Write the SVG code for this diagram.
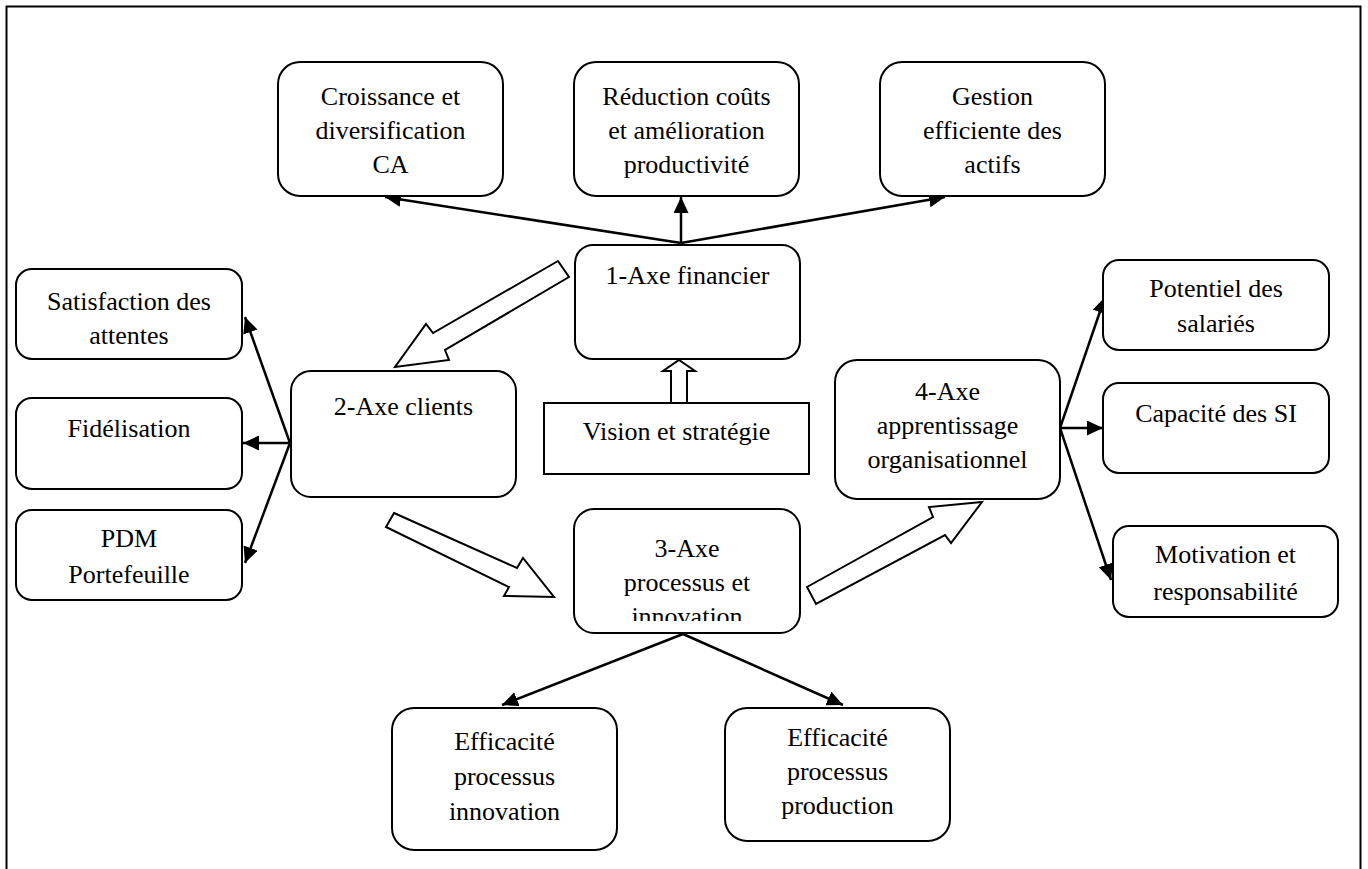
<svg xmlns="http://www.w3.org/2000/svg" width="1368" height="869" viewBox="0 0 1368 869">
  <defs>
    <style>
      .box { fill: #fff; stroke: #000; stroke-width: 2; }
      .lbl { font-family: "Liberation Serif", "Times New Roman", serif; font-size: 26px; fill: #000; text-anchor: middle; }
      .link { stroke: #000; stroke-width: 2.5; fill: none; marker-end: url(#head); }
      .block { fill: #fff; stroke: #000; stroke-width: 2; stroke-linejoin: miter; }
      .frame { stroke: #000; stroke-width: 2; fill: none; }
    </style>
    <marker id="head" markerUnits="userSpaceOnUse" markerWidth="18" markerHeight="16" refX="16" refY="7.5" orient="auto">
      <path d="M0,0 L16,7.5 L0,15 z" fill="#000"/>
    </marker>
    <clipPath id="clip-axe3">
      <rect x="574" y="509" width="226" height="112"/>
    </clipPath>
  </defs>

  <rect width="1368" height="869" fill="#fff"/>

  <!-- outer frame (open at the bottom) -->
  <path class="frame" d="M6.5,869 V6.5 H1360.5 V869"/>

  <!-- connectors -->
  <g id="connectors">
    <line class="link" x1="681" y1="243" x2="385" y2="197"/>
    <line class="link" x1="681" y1="243" x2="681" y2="197"/>
    <line class="link" x1="681" y1="243" x2="945" y2="197"/>

    <line class="link" x1="290" y1="443" x2="245" y2="317"/>
    <line class="link" x1="290" y1="443" x2="243" y2="443"/>
    <line class="link" x1="290" y1="443" x2="245" y2="563"/>

    <line class="link" x1="1060" y1="428" x2="1105" y2="297"/>
    <line class="link" x1="1060" y1="428" x2="1103" y2="428"/>
    <line class="link" x1="1060" y1="428" x2="1111" y2="580"/>

    <line class="link" x1="683" y1="634" x2="502" y2="705"/>
    <line class="link" x1="683" y1="634" x2="843" y2="705"/>

    <!-- hollow block arrows -->
    <polygon class="block" points="558,261 433,333 426,324 395,367 449,360 445,350 569,277"/>
    <polygon class="block" points="394,513 517,568 523,558 554,597 504,596 509,587 386,527"/>
    <polygon class="block" points="807,587 933,517 929,507 982,502 951,543 945,535 816,604"/>
    <polygon class="block" points="671,403 671,371 663,371 679,360 695,371 687,371 687,403"/>
  </g>

  <!-- financial axis objectives -->
  <g id="croissance">
    <rect class="box" x="278" y="62" width="225" height="134" rx="22"/>
    <text class="lbl" x="390.5" y="105">Croissance et</text>
    <text class="lbl" x="390.5" y="139">diversification</text>
    <text class="lbl" x="390.5" y="173">CA</text>
  </g>
  <g id="reduction">
    <rect class="box" x="574" y="62" width="225" height="134" rx="22"/>
    <text class="lbl" x="686.5" y="105">Réduction coûts</text>
    <text class="lbl" x="686.5" y="139">et amélioration</text>
    <text class="lbl" x="686.5" y="173">productivité</text>
  </g>
  <g id="gestion">
    <rect class="box" x="880" y="62" width="225" height="134" rx="22"/>
    <text class="lbl" x="992.5" y="105">Gestion</text>
    <text class="lbl" x="992.5" y="139">efficiente des</text>
    <text class="lbl" x="992.5" y="173">actifs</text>
  </g>

  <!-- central axes -->
  <g id="axe-financier">
    <rect class="box" x="575" y="245" width="225" height="114" rx="18"/>
    <text class="lbl" x="687.5" y="284">1-Axe financier</text>
  </g>
  <g id="vision">
    <rect class="box" x="544" y="403" width="265" height="71"/>
    <text class="lbl" x="676.5" y="440">Vision et stratégie</text>
  </g>
  <g id="axe-clients">
    <rect class="box" x="291" y="371" width="225" height="126" rx="20"/>
    <text class="lbl" x="403.5" y="415">2-Axe clients</text>
  </g>
  <g id="axe-processus">
    <rect class="box" x="574" y="509" width="226" height="124" rx="20"/>
    <g clip-path="url(#clip-axe3)">
      <text class="lbl" x="687" y="557">3-Axe</text>
      <text class="lbl" x="687" y="591">processus et</text>
      <text class="lbl" x="687" y="625">innovation</text>
    </g>
  </g>
  <g id="axe-apprentissage">
    <rect class="box" x="835" y="360" width="225" height="139" rx="22"/>
    <text class="lbl" x="947.5" y="400">4-Axe</text>
    <text class="lbl" x="947.5" y="434">apprentissage</text>
    <text class="lbl" x="947.5" y="468">organisationnel</text>
  </g>

  <!-- customer axis objectives -->
  <g id="satisfaction">
    <rect class="box" x="16" y="269" width="226" height="90" rx="16"/>
    <text class="lbl" x="129" y="310">Satisfaction des</text>
    <text class="lbl" x="129" y="344">attentes</text>
  </g>
  <g id="fidelisation">
    <rect class="box" x="16" y="398" width="226" height="91" rx="16"/>
    <text class="lbl" x="129" y="437">Fidélisation</text>
  </g>
  <g id="pdm">
    <rect class="box" x="16" y="510" width="226" height="90" rx="16"/>
    <text class="lbl" x="129" y="547">PDM</text>
    <text class="lbl" x="129" y="583">Portefeuille</text>
  </g>

  <!-- learning axis objectives -->
  <g id="potentiel">
    <rect class="box" x="1103" y="260" width="226" height="90" rx="16"/>
    <text class="lbl" x="1216" y="297">Potentiel des</text>
    <text class="lbl" x="1216" y="332">salariés</text>
  </g>
  <g id="capacite">
    <rect class="box" x="1103" y="383" width="226" height="90" rx="16"/>
    <text class="lbl" x="1216" y="422">Capacité des SI</text>
  </g>
  <g id="motivation">
    <rect class="box" x="1113" y="526" width="225" height="91" rx="16"/>
    <text class="lbl" x="1225.5" y="563">Motivation et</text>
    <text class="lbl" x="1225.5" y="600">responsabilité</text>
  </g>

  <!-- process axis objectives -->
  <g id="eff-innovation">
    <rect class="box" x="392" y="708" width="225" height="142" rx="22"/>
    <text class="lbl" x="504.5" y="750">Efficacité</text>
    <text class="lbl" x="504.5" y="785">processus</text>
    <text class="lbl" x="504.5" y="820">innovation</text>
  </g>
  <g id="eff-production">
    <rect class="box" x="725" y="708" width="225" height="133" rx="22"/>
    <text class="lbl" x="837.5" y="746">Efficacité</text>
    <text class="lbl" x="837.5" y="780">processus</text>
    <text class="lbl" x="837.5" y="814">production</text>
  </g>
</svg>
